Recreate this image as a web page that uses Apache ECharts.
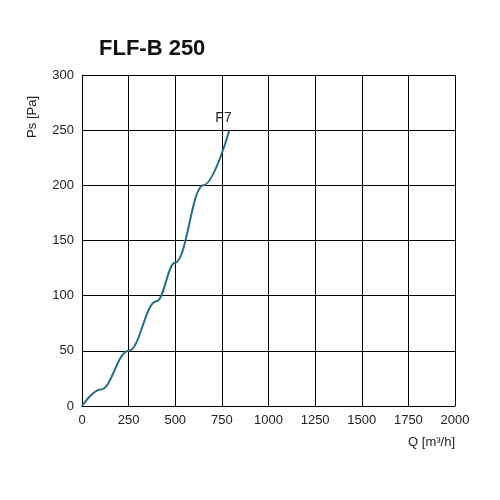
<!DOCTYPE html><html><head><meta charset="utf-8"><script src="https://cdn.jsdelivr.net/npm/echarts@6/dist/echarts.min.js"></script></head><body style="margin:0"><div id="c" style="width:500px;height:500px"></div><script>
const xTicks=[0,250,500,750,1000,1250,1500,1750,2000];
const curveQ=[0,100,250,400,500,650,790];
const curvePs=[0,15,50,95,130,200,250];
const seriesName='F7';
const ch=echarts.init(document.getElementById('c'));
ch.setOption({
 title:{text:'FLF-B 250',left:94,top:33,textStyle:{fontFamily:'Arial, Liberation Sans',fontSize:22,fontWeight:'bold',color:'#111'}},
 graphic:[{type:'text',left:26,top:96,rotation:Math.PI/2,style:{text:'Ps [Pa]',fontSize:13,fill:'#222'}}],
 grid:{left:82,right:45,top:75,bottom:94},
 xAxis:{type:'value',min:0,max:2000,interval:250,name:'Q [m³/h]',nameLocation:'end',nameGap:0,
  nameTextStyle:{align:'right',verticalAlign:'top',padding:[30,0,0,0],fontSize:13,color:'#222'},
  axisLine:{lineStyle:{color:'#000'}},axisTick:{show:false},axisLabel:{color:'#222',fontSize:13,formatter:v=>String(v)},
  splitLine:{lineStyle:{color:'#000',width:1}}},
 yAxis:{type:'value',min:0,max:300,interval:50,
  axisLine:{show:true,lineStyle:{color:'#000'}},axisTick:{show:false},axisLabel:{color:'#222',fontSize:13},
  splitLine:{lineStyle:{color:'#000',width:1}}},
 series:[{name:seriesName,type:'line',smooth:0.4,smoothMonotone:'x',symbol:'none',data:curveQ.map((q,i)=>[q,curvePs[i]]),
  lineStyle:{color:'#2b6c85',width:2},
  endLabel:{show:true,formatter:seriesName,offset:[-22,-12],fontSize:14,color:'#222'}}]
});
</script></body></html>
